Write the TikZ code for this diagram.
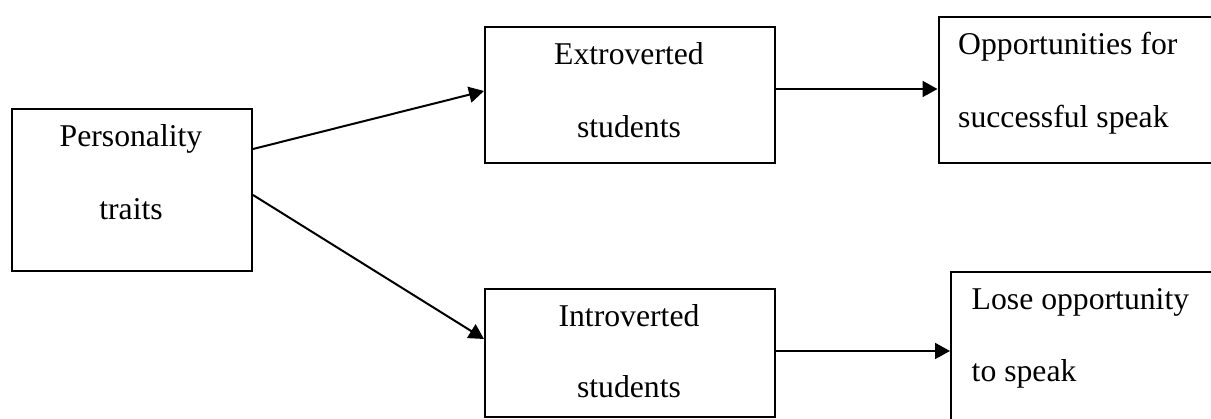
\documentclass[tikz,border=0pt]{standalone}
\usepackage{fontspec}
\setmainfont{Liberation Serif}
\newfontfamily\timesfont{Liberation Serif}
\usetikzlibrary{arrows.meta}
\tikzset{
  box/.style={draw, line width=2pt, inner sep=0pt, anchor=north west},
  txt/.style={anchor=base, inner sep=0pt, font=\timesfont\fontsize{31.7}{38}\selectfont},
  ltxt/.style={anchor=base west, inner sep=0pt, font=\timesfont\fontsize{31.7}{38}\selectfont},
  arr/.style={line width=2pt, -{Triangle[length=15pt,width=16pt]}}
}
\begin{document}
\begin{tikzpicture}[x=1pt, y=-1pt]
\useasboundingbox (0,0) rectangle (1211,419);
\clip (0,0) rectangle (1211,419);
% boxes
\node[box, minimum width=240pt, minimum height=162pt] (pers) at (11,108) {};
\node[box, minimum width=289.5pt, minimum height=136pt] (extro) at (484,26) {};
\node[box, minimum width=289.5pt, minimum height=128pt] (intro) at (484,288) {};
\node[box, minimum width=300pt, minimum height=146pt] (opp) at (937.5,16) {};
\node[box, minimum width=290pt, minimum height=160pt] (lose) at (950,271) {};
% texts
\node[txt] (t1) at (131,147) {Personality};
\node[txt] (t2) at (131,220) {traits};
\node[txt] (t3) at (629,65) {Extroverted};
\node[txt] (t4) at (629,138) {students};
\node[txt] (t5) at (629,327) {Introverted};
\node[txt] (t6) at (629,398) {students};
\node[ltxt] (t7) at (958,55) {Opportunities for};
\node[ltxt] (t8) at (958,128) {successful speak};
\node[ltxt] (t9) at (971.5,310) {Lose opportunity};
\node[ltxt] (t10) at (971.5,382) {to speak};
% connectors
\draw[arr] ([yshift=41pt]pers.east) -- ([yshift=4pt]extro.west);
\draw[arr] ([yshift=-5pt]pers.east) -- ([yshift=14pt]intro.west);
\draw[arr] ([yshift=6pt]extro.east) -- ([yshift=6pt]extro.east -| opp.west);
\draw[arr] ([yshift=2pt]intro.east) -- ([yshift=2pt]intro.east -| lose.west);
\end{tikzpicture}
\end{document}
